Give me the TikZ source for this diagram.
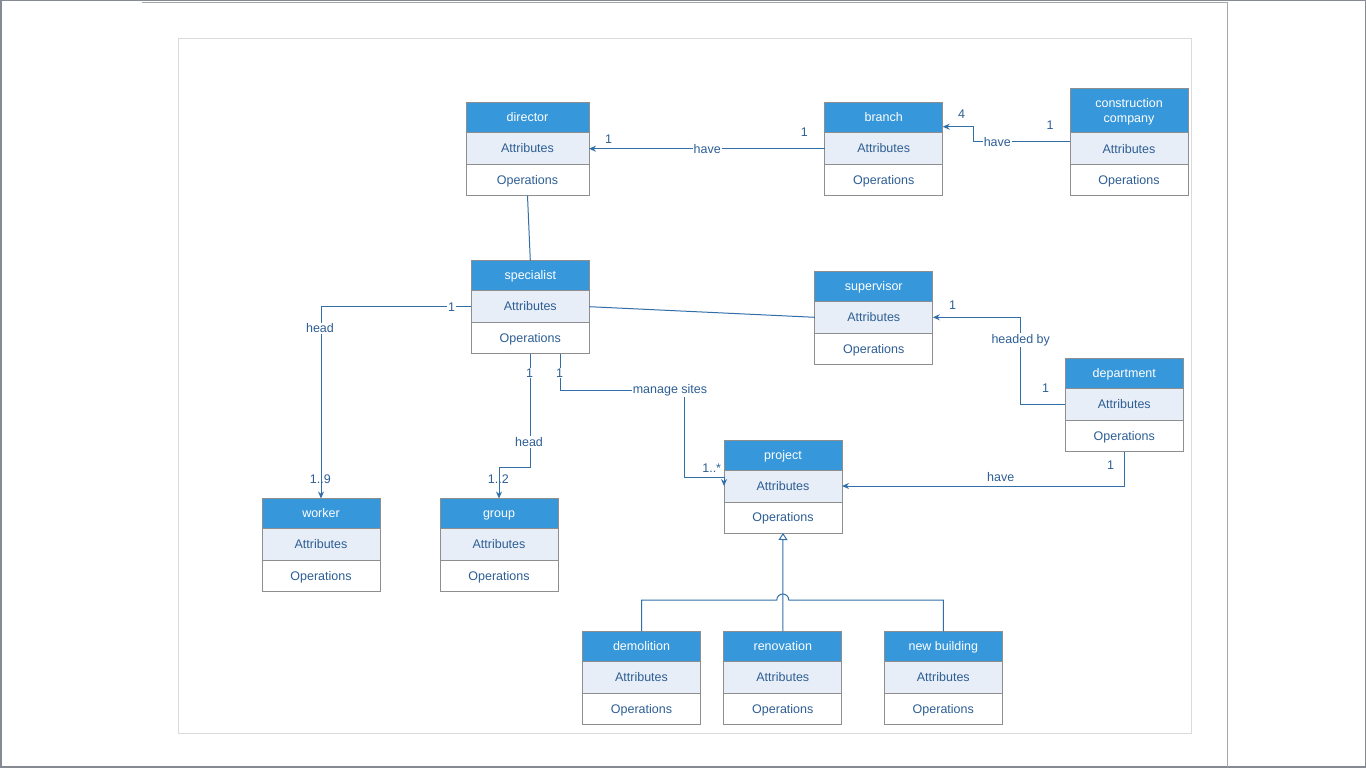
\documentclass[tikz,border=0pt]{standalone}
\usepackage{fontspec}
\setmainfont{Liberation Sans}
\usepackage{xcolor}
\usepackage{tikz}
\usetikzlibrary{positioning,arrows.meta}

\definecolor{hdrblue}{RGB}{54,151,219}
\definecolor{attrbg}{RGB}{232,238,247}
\definecolor{boxgray}{RGB}{142,142,142}
\definecolor{txtblue}{RGB}{45,94,148}
\definecolor{linkblue}{RGB}{50,111,168}
\definecolor{framegray}{RGB}{134,139,147}

\tikzset{
    clsbase/.style={draw=boxgray, line width=1pt, minimum width=118pt, inner sep=0pt, outer sep=0pt, align=center, font=\fontsize{12.5}{15}\selectfont},
    clshead/.style={clsbase, fill=hdrblue, text=white, minimum height=30pt, inner ysep=8pt, anchor=north},
    clsattr/.style={clsbase, fill=attrbg, text=txtblue, minimum height=32pt, text height=11pt, text depth=2.6pt},
    clsops/.style={clsbase, fill=white, text=txtblue, minimum height=31pt, text height=11pt, text depth=2.6pt},
    assoc/.style={draw=linkblue, line width=1pt},
    navarrow/.style={assoc, -{Stealth[length=7pt,width=6pt]}},
    inherit/.style={assoc, -{Triangle[open,length=7pt,width=9pt]}},
    mult/.style={text=txtblue, inner sep=1pt, font=\fontsize{12.5}{15}\selectfont},
    role/.style={mult, fill=white}
}

% class box: header, attributes, operations
\newcommand{\umlclass}[5][118pt]{
    \node[clshead, minimum width=#1] (#2) at (#3,#4) {\rule{0pt}{11pt}\vphantom{g}#5};
    \node[clsattr, minimum width=#1, below=0pt of #2] (#2-a) {Attributes};
    \node[clsops, minimum width=#1, below=0pt of #2-a] (#2-o) {Operations};
}

\begin{document}
\begin{tikzpicture}[x=1pt, y=1pt]
    \useasboundingbox (0,0) rectangle (1366,-776);
    % frame
    \draw[framegray, line width=1.5pt] (0.75,-0.5) rectangle (1365.25,-767);
    \draw[black!35, line width=1pt] (142,-2.5) -- (1227.5,-2.5) -- (1227.5,-767);
    \draw[black!14, line width=1pt] (178.3,-38.3) rectangle (1191.3,-733.3);

    \umlclass[123pt]{director}{527.5}{-102.7}{director}
    \umlclass{branch}{883.7}{-102.7}{branch}
    \umlclass{cc}{1129}{-88.3}{construction\\company}
    \umlclass{specialist}{530.3}{-260.7}{specialist}
    \umlclass{supervisor}{873.8}{-271.3}{supervisor}
    \umlclass{department}{1124.3}{-358.7}{department}
    \umlclass{project}{783}{-440}{project}
    \umlclass{worker}{321}{-498.5}{worker}
    \umlclass{group}{499}{-498.5}{group}
    \umlclass{demolition}{641.5}{-631.3}{demolition}
    \umlclass{renovation}{782.8}{-631.3}{renovation}
    \umlclass{newbuilding}{943.3}{-631.3}{new building}

    % associations
    \draw[navarrow] (branch-a.west) -- ++(-88,0) |- node[role, pos=0.6] (haveA) {have} (director-a.east);
    \draw[navarrow] ([yshift=-8.5pt]cc-a.north west) -- ++(-97,0) |- ([yshift=6pt]branch.south east);
    \draw[assoc] (director-o.south) -- (specialist.north);
    \draw[assoc] (specialist-a.east) -- (supervisor-a.west);
    \draw[navarrow] (specialist-a.west) -| (worker.north);
    \draw[navarrow] (specialist-o.south) -- ++(0,-114) -| (group.north);
    \draw[navarrow] ([xshift=30pt]specialist-o.south) -- ++(0,-36.7) -- ++(123.7,0) -- ++(0,-87.5) -| (project-a.west);
    \draw[navarrow] (department-a.west) -- ++(-45.3,0) |- (supervisor-a.east);
    \draw[navarrow] (department-o.south) |- (project-a.east);

    % generalization
    \draw[inherit] (renovation.north) -- (project-o.south);
    \coordinate (genmid) at (782.8,-600);
    \draw[assoc] (demolition.north) |- ([xshift=-6pt]genmid) arc[start angle=180, end angle=0, radius=6pt] -| (newbuilding.north);

    % labels
    \node[role] (haveB) at (997.3,-142) {have};
    \node[mult] (mDir) at (608.7,-139.3) {1};
    \node[mult] (mBrA) at (804.3,-132) {1};
    \node[mult] (mBrB) at (961.7,-114) {4};
    \node[mult] (mCc) at (1050,-125) {1};
    \node[role] (mSpW) at (451.5,-307.3) {1};
    \node[role] (headW) at (320,-328.5) {head};
    \node[mult] (mWk) at (320.3,-479) {1..9};
    \node[role] (mSpG) at (529.5,-373) {1};
    \node[role] (headG) at (529,-442) {head};
    \node[mult] (mGr) at (498.3,-479) {1..2};
    \node[role] (mSpP) at (559.5,-373) {1};
    \node[role] (sites) at (670,-390) {manage sites};
    \node[mult] (mPr) at (711.7,-468.3) {1..*};
    \node[mult] (mSup) at (952.7,-305) {1};
    \node[role] (headby) at (1020.7,-340.3) {headed by};
    \node[mult] (mDep) at (1045.7,-388) {1};
    \node[mult] (haveC) at (1000.7,-477.3) {have};
    \node[mult] (mDepB) at (1110.7,-465.3) {1};
\end{tikzpicture}
\end{document}
